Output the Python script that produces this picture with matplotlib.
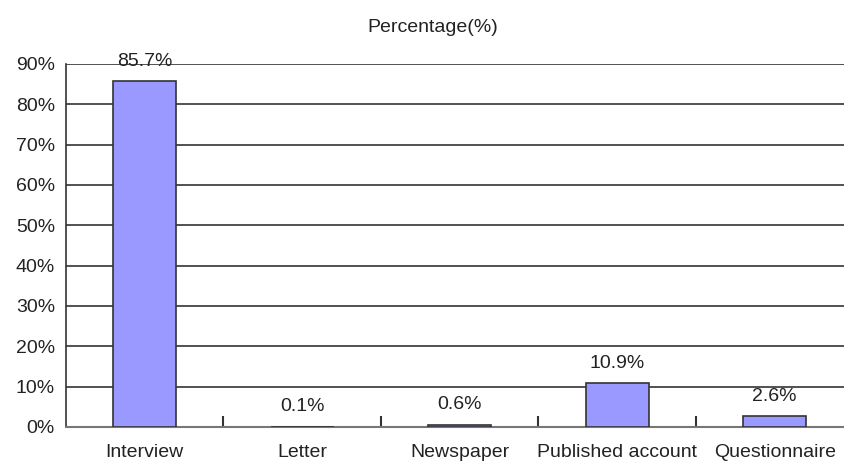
import numpy as np
import matplotlib.pyplot as plt

# Data
categories = ['Interview', 'Letter', 'Newspaper', 'Published account', 'Questionnaire']
percentages = [85.7, 0.1, 0.6, 10.9, 2.6]
y_ticks = [0, 10, 20, 30, 40, 50, 60, 70, 80, 90]

plt.rcParams['font.family'] = ['Liberation Sans', 'DejaVu Sans']

fig = plt.figure(figsize=(8.44, 4.63), dpi=100)
ax = fig.add_axes([0.0782, 0.0778, 0.933, 0.784])

x = np.arange(len(categories))
bars = ax.bar(x, percentages, width=0.4, color='#9999ff', edgecolor='#333333', linewidth=1.2, zorder=3)

# Value labels above bars
for xi, v in zip(x, percentages):
    ax.annotate(f'{v:.1f}%', (xi, v), xytext=(0, 8), textcoords='offset points',
                ha='center', va='bottom', fontsize=14, color='#222222')

ax.set_xlim(-0.5, len(categories) - 0.5)
ax.set_ylim(0, 90)
ax.set_yticks(y_ticks)
ax.set_yticklabels([f'{t}%' for t in y_ticks], fontsize=14, color='#222222')
ax.yaxis.grid(True, color='#333333', linewidth=1.2, zorder=0)
ax.tick_params(axis='y', length=0, pad=8)

# category labels without ticks, tick marks between categories
ax.set_xticks(x)
ax.set_xticklabels(categories, fontsize=14, color='#222222')
ax.tick_params(axis='x', which='major', length=0, pad=12)
ax.set_xticks(np.arange(0.5, len(categories) - 0.5, 1), minor=True)
ax.tick_params(axis='x', which='minor', direction='in', length=8, width=1.5, color='#333333')

ax.spines['top'].set_visible(False)
ax.spines['right'].set_visible(False)
ax.spines['left'].set_color('#333333')
ax.spines['left'].set_linewidth(1.2)
ax.spines['bottom'].set_color('#777777')
ax.spines['bottom'].set_linewidth(1.5)

fig.text(433 / 844, 1 - 27 / 463, 'Percentage(%)', ha='center', va='center', fontsize=14, color='#222222')

fig.savefig('out.png', dpi=100)
